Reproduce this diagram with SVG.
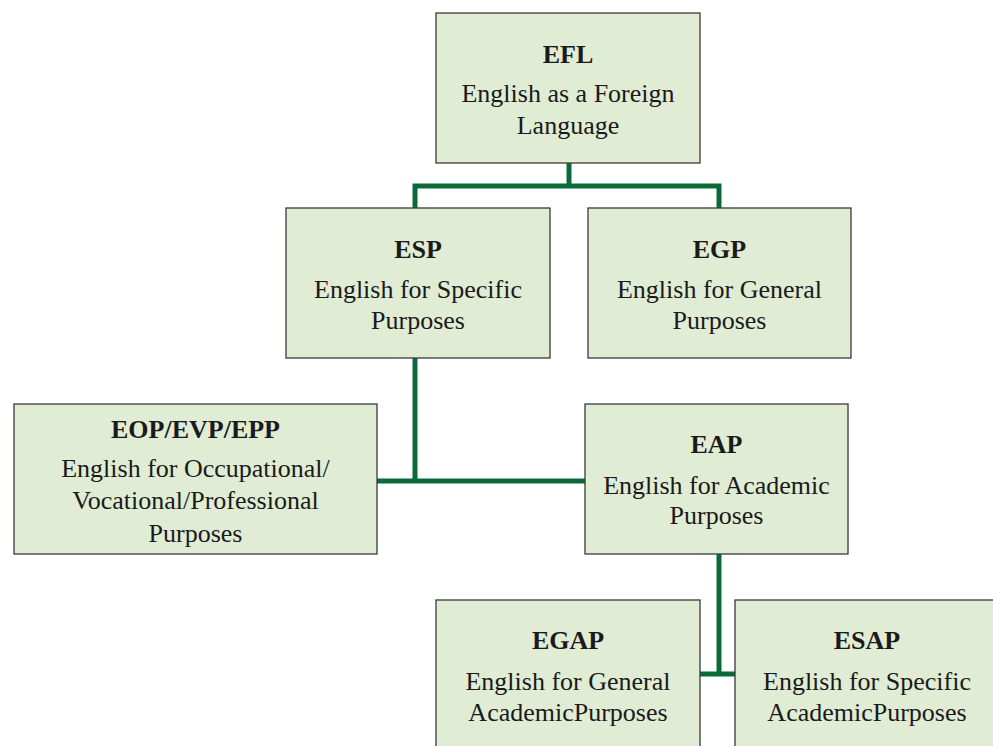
<svg xmlns="http://www.w3.org/2000/svg" width="993" height="746" viewBox="0 0 993 746">
<style>
.box{fill:#e1ecd5;stroke:#3a3a3a;stroke-width:1.3}
.t{font-family:"Liberation Serif","Times New Roman",serif;font-size:26px;fill:#1a1a1a;text-anchor:middle}
.b{font-weight:bold}
.c{fill:none;stroke:#0a6a38;stroke-width:5}
</style>
<rect width="993" height="746" fill="#ffffff"/>
<g id="connectors">
<path class="c" d="M569 163V186"/>
<path class="c" d="M415 208V186H719V208"/>
<path class="c" d="M415 358V481"/>
<path class="c" d="M377 481H585"/>
<path class="c" d="M719 554V674"/>
<path class="c" d="M700 674H735"/>
</g>
<g id="efl">
<rect class="box" x="436" y="13" width="264" height="150"/>
<text class="t b" x="568" y="63">EFL</text>
<text class="t" x="568" y="102">English as a Foreign</text>
<text class="t" x="568" y="134">Language</text>
</g>
<g id="esp">
<rect class="box" x="286" y="208" width="264" height="150"/>
<text class="t b" x="418" y="258">ESP</text>
<text class="t" x="418" y="298">English for Specific</text>
<text class="t" x="418" y="329">Purposes</text>
</g>
<g id="egp">
<rect class="box" x="588" y="208" width="263" height="150"/>
<text class="t b" x="719.5" y="258">EGP</text>
<text class="t" x="719.5" y="298">English for General</text>
<text class="t" x="719.5" y="329">Purposes</text>
</g>
<g id="eop">
<rect class="box" x="14" y="404" width="363" height="150"/>
<text class="t b" x="195.5" y="438">EOP/EVP/EPP</text>
<text class="t" x="195.5" y="477">English for Occupational/</text>
<text class="t" x="195.5" y="509">Vocational/Professional</text>
<text class="t" x="195.5" y="542">Purposes</text>
</g>
<g id="eap">
<rect class="box" x="585" y="404" width="263" height="150"/>
<text class="t b" x="716.5" y="453">EAP</text>
<text class="t" x="716.5" y="494">English for Academic</text>
<text class="t" x="716.5" y="524">Purposes</text>
</g>
<g id="egap">
<rect class="box" x="436" y="600" width="264" height="160"/>
<text class="t b" x="568" y="649">EGAP</text>
<text class="t" x="568" y="690">English for General</text>
<text class="t" x="568" y="721">AcademicPurposes</text>
</g>
<g id="esap">
<rect class="box" x="735" y="600" width="264" height="160"/>
<text class="t b" x="867" y="649">ESAP</text>
<text class="t" x="867" y="690">English for Specific</text>
<text class="t" x="867" y="721">AcademicPurposes</text>
</g>
</svg>
